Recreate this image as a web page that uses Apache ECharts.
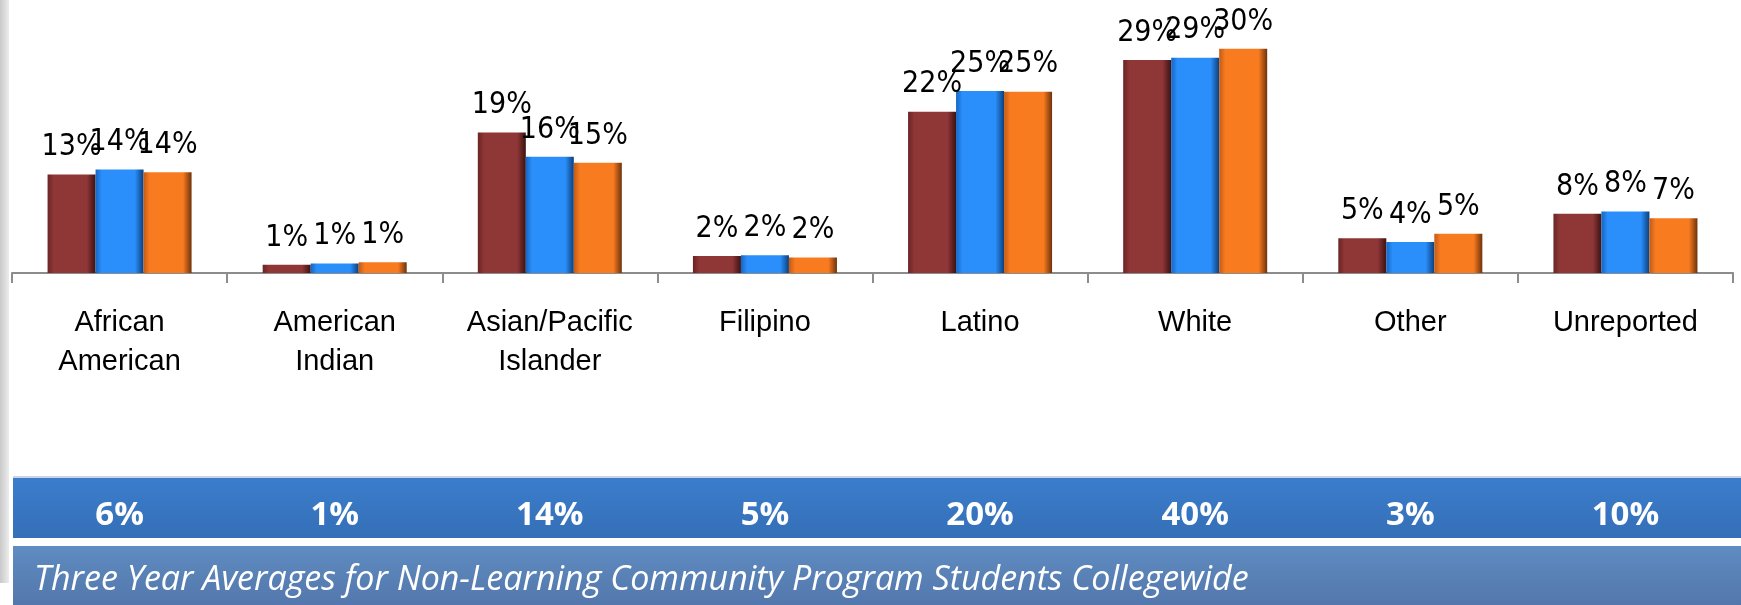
<!DOCTYPE html>
<html>
<head>
<meta charset="utf-8">
<script src="https://cdn.jsdelivr.net/npm/echarts@6/dist/echarts.min.js"></script>
<style>
  html, body { margin: 0; padding: 0; background: #fff; }
  #chart { width: 1741px; height: 605px; }
</style>
</head>
<body>
<div id="chart"></div>
<script>
var categories = ['African\nAmerican', 'American\nIndian', 'Asian/Pacific\nIslander', 'Filipino', 'Latino', 'White', 'Other', 'Unreported'];
// three years per category, percent
var year1 = [13.3, 1.1, 19.0, 2.3, 21.8, 28.8, 4.7, 8.0];
var year2 = [14.0, 1.3, 15.7, 2.4, 24.6, 29.1, 4.2, 8.3];
var year3 = [13.6, 1.45, 14.9, 2.1, 24.5, 30.3, 5.3, 7.4];
// three year averages for non-learning community students
var averages = ['6%', '1%', '14%', '5%', '20%', '40%', '3%', '10%'];
var caption = 'Three Year Averages for Non-Learning Community Program Students Collegewide';

const chart = echarts.init(document.getElementById('chart'));

function barFill(edgeL, main, edgeR) {
    return new echarts.graphic.LinearGradient(0, 0, 1, 0, [
        { offset: 0, color: edgeL },
        { offset: 0.13, color: main },
        { offset: 0.82, color: main },
        { offset: 1, color: edgeR }
    ]);
}

var labelStyle = {
    show: true,
    position: 'top',
    distance: 12,
    color: '#000',
    fontSize: 30,
    fontFamily: '"Liberation Sans Narrow", "DejaVu Sans Condensed", sans-serif',
    formatter: function (p) {
        return Math.round(p.value) + '%';
    }
};

function makeSeries(name, data, fill) {
    return {
        name: name,
        type: 'bar',
        xAxisIndex: 0,
        data: data,
        barWidth: 48,
        barGap: '0%',
        itemStyle: { color: fill },
        label: labelStyle
    };
}

chart.setOption({
    animation: false,
    graphic: [
        {
            type: 'rect', z: -1,
            shape: { x: 0, y: 0, width: 9, height: 583 },
            style: {
                fill: new echarts.graphic.LinearGradient(0, 0, 1, 0, [
                    { offset: 0, color: '#c9c9c9' },
                    { offset: 1, color: '#ececec' }
                ])
            }
        },
        {
            type: 'rect', z: -1,
            shape: { x: 13, y: 476, width: 1728, height: 2 },
            style: { fill: '#c9d5e4' }
        },
        {
            type: 'rect', z: -1,
            shape: { x: 13, y: 478, width: 1728, height: 60 },
            style: {
                fill: new echarts.graphic.LinearGradient(0, 0, 0, 1, [
                    { offset: 0, color: '#3b7dcc' },
                    { offset: 1, color: '#356fb7' }
                ])
            }
        },
        {
            type: 'rect', z: -1,
            shape: { x: 13, y: 546, width: 1728, height: 59 },
            style: {
                fill: new echarts.graphic.LinearGradient(0, 0, 0, 1, [
                    { offset: 0, color: '#5f8cc1' },
                    { offset: 1, color: '#5377ac' }
                ])
            }
        },
        {
            type: 'text', z: 10,
            x: 34, y: 580,
            style: {
                text: caption,
                fill: '#fff',
                font: 'italic 34px "Open Sans", sans-serif',
                verticalAlign: 'middle'
            }
        }
    ],
    grid: {
        left: 12,
        right: 8,
        top: 14,
        bottom: 332
    },
    xAxis: [
        {
            type: 'category',
            data: categories,
            axisLine: { lineStyle: { color: '#8c8c8c', width: 2 } },
            axisTick: { show: true, length: 10, lineStyle: { color: '#8c8c8c', width: 2 } },
            axisLabel: {
                interval: 0,
                margin: 30,
                color: '#000',
                fontSize: 29,
                lineHeight: 39,
                fontFamily: '"Liberation Sans", Arial, sans-serif'
            }
        },
        {
            type: 'category',
            position: 'bottom',
            offset: 243,
            data: averages,
            axisLine: { show: false },
            axisTick: { show: false },
            axisLabel: {
                interval: 0,
                margin: 0,
                verticalAlign: 'middle',
                color: '#fff',
                fontSize: 33,
                fontWeight: 'bold',
                fontFamily: '"Open Sans", sans-serif'
            }
        }
    ],
    yAxis: {
        type: 'value',
        min: 0,
        max: 35,
        show: false
    },
    series: [
        makeSeries('Year 1', year1, barFill('#6a2424', '#8f3636', '#3b1212')),
        makeSeries('Year 2', year2, barFill('#1566c4', '#2a8ffb', '#0c3f7c')),
        makeSeries('Year 3', year3, barFill('#c25b16', '#f97b20', '#6e320c'))
    ]
});
</script>
</body>
</html>
